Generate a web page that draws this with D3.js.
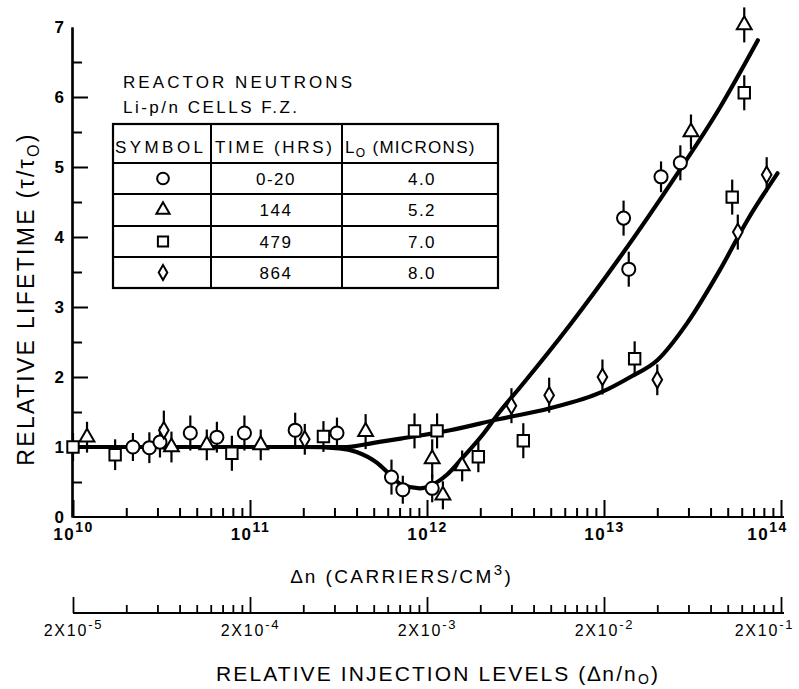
<!DOCTYPE html>
<html>
<head>
<meta charset="utf-8">
<script src="https://cdn.jsdelivr.net/npm/d3@7/dist/d3.min.js"></script>
<style>
  body { margin: 0; background: #fff; }
  svg { display: block; font-family: "Liberation Sans", Arial, Helvetica, sans-serif; }
</style>
</head>
<body>
<svg id="chart" width="799" height="689"></svg>
<script>
// ---- Measured relative lifetime vs. injection level (carriers/cm^3) ----
// 0-20 hrs (circles)
const circleX   = [2.18e10, 2.7e10, 3.1e10, 4.6e10, 6.5e10, 9.3e10, 1.8e11, 3.1e11, 6.3e11, 7.3e11, 1.07e12, 1.29e13, 1.38e13, 2.1e13, 2.7e13];
const circleY   = [1.0, 0.99, 1.07, 1.2, 1.14, 1.2, 1.24, 1.2, 0.57, 0.39, 0.41, 4.27, 3.54, 4.86, 5.06];
const circleErr = [0.2, 0.22, 0.22, 0.25, 0.22, 0.25, 0.25, 0.22, 0.25, 0.2, 0.2, 0.25, 0.25, 0.22, 0.25];
// 144 hrs (triangles)
const triX   = [1.2e10, 3.6e10, 5.7e10, 1.15e11, 4.5e11, 1.07e12, 1.23e12, 1.58e12, 3.1e13, 6.2e13];
const triY   = [1.14, 1.0, 1.03, 1.03, 1.22, 0.83, 0.31, 0.73, 5.5, 7.03];
const triErr = [0.22, 0.22, 0.22, 0.22, 0.25, 0.28, 0.2, 0.22, 0.25, 0.25];
// 479 hrs (squares)
const sqX   = [1.0e10, 1.73e10, 7.9e10, 2.6e11, 8.5e11, 1.14e12, 1.95e12, 3.5e12, 1.49e13, 5.3e13, 6.2e13];
const sqY   = [1.0, 0.89, 0.91, 1.15, 1.23, 1.23, 0.86, 1.09, 2.26, 4.57, 6.06];
const sqErr = [0.2, 0.22, 0.25, 0.22, 0.25, 0.25, 0.22, 0.25, 0.25, 0.25, 0.25];
// 864 hrs (diamonds)
const diaX   = [3.26e10, 2.04e11, 3.0e12, 4.9e12, 9.8e12, 2.0e13, 5.7e13, 8.3e13];
const diaY   = [1.24, 1.11, 1.59, 1.74, 2.0, 1.96, 4.07, 4.89];
const diaErr = [0.28, 0.22, 0.25, 0.25, 0.25, 0.22, 0.25, 0.25];

// Fitted curves
const fitAX = [1e10, 1e11, 2.0e11, 3.2e11, 4.0e11, 5.25e11, 6.2e11, 7.2e11, 9.1e11, 1.07e12, 1.29e12, 1.58e12, 2.1e12, 2.57e12, 3.35e12, 6.45e12, 1.23e13, 2.45e13, 4.52e13, 7.4e13];
const fitAY = [1.0, 1.0, 1.0, 0.98, 0.93, 0.77, 0.6, 0.46, 0.41, 0.46, 0.6, 0.84, 1.2, 1.5, 1.85, 2.75, 3.71, 4.81, 5.85, 6.81];
const fitBX = [1e10, 2.0e11, 3.5e11, 5.0e11, 7.1e11, 1.35e12, 2.57e12, 4.9e12, 9.8e12, 1.41e13, 2.0e13, 2.95e13, 4.52e13, 6.46e13, 9.55e13];
const fitBY = [1.0, 1.0, 1.0, 1.06, 1.12, 1.24, 1.40, 1.55, 1.79, 2.0, 2.24, 2.77, 3.53, 4.24, 4.91];

// Axis ticks
const yMajor = [0, 1, 2, 3, 4, 5, 6, 7];
const yMinor = [0.5, 1.5, 2.5, 3.5, 4.5, 5.5, 6.5];
const decadeExps = [10, 11, 12, 13, 14];
const relExps = [-5, -4, -3, -2, -1];

// Legend table
const legendTimes = ["0-20", "144", "479", "864"];
const legendLengths = ["4.0", "5.2", "7.0", "8.0"];

const svg = d3.select("#chart");
const x = d3.scaleLog().domain([1e10, 1e14]).range([73, 781]);
const y = d3.scaleLinear().domain([0, 7]).range([517, 27]);
const xRel = d3.scaleLog().domain([2e-5, 2e-1]).range([73, 781]);

const decades = decadeExps.map(e => Math.pow(10, e));
const minorX = [];
for (let e = 10; e < 14; e++) for (let k = 2; k <= 9; k++) minorX.push(k * Math.pow(10, e));
const relMajor = relExps.map(e => 2 * Math.pow(10, e));
const relMinor = [];
for (let e = -5; e < -1; e++) for (let k = 2; k <= 9; k++) relMinor.push(2 * k * Math.pow(10, e));

// ---- bottom (carrier) axis ----
const gx = svg.append("g").attr("transform", `translate(0,${y(0)})`);
gx.call(d3.axisBottom(x).tickValues(minorX).tickSize(-9).tickSizeOuter(0).tickFormat(""));
gx.append("g").call(d3.axisBottom(x).tickValues(decades).tickSize(-17).tickSizeOuter(0).tickPadding(11).tickFormat(""));
gx.selectAll("path.domain").attr("stroke-width", 2.2).attr("d", "M73,0H784");
gx.selectAll(".tick line").attr("stroke-width", 2);
gx.selectAll(".tick text").filter(d => decades.includes(d)).each(function (d, i) {
  const t = d3.select(this).attr("font-size", 17).attr("font-weight", "bold").attr("fill", "#000").attr("letter-spacing", 1.5);
  t.text(null);
  if (i === decades.length - 1) t.attr("x", -14);
  t.append("tspan").text("10");
  t.append("tspan").attr("dy", -8).attr("font-size", 14).text(Math.round(Math.log10(d)));
});

// ---- left axis ----
const gy = svg.append("g").attr("transform", `translate(${x(1e10) - 1},0)`);
gy.call(d3.axisLeft(y).tickValues(yMinor).tickSize(-10).tickSizeOuter(0).tickFormat(""));
gy.append("g").call(d3.axisLeft(y).tickValues(yMajor).tickSize(-16).tickSizeOuter(0).tickPadding(8).tickFormat(d3.format("d")));
gy.selectAll("path.domain").attr("stroke-width", 2.2);
gy.selectAll(".tick line").attr("stroke-width", 2);
gy.selectAll(".tick").filter(d => d === 7 || d === 0).select("line").remove();
gy.selectAll(".tick text").attr("font-size", 17).attr("font-weight", "bold").attr("fill", "#000");

// ---- relative injection axis ----
const gr = svg.append("g").attr("transform", "translate(0,613)");
gr.call(d3.axisBottom(xRel).tickValues(relMinor).tickSize(-8).tickSizeOuter(0).tickFormat(""));
gr.append("g").call(d3.axisBottom(xRel).tickValues(relMajor).tickSize(-16).tickSizeOuter(0).tickPadding(12).tickFormat(""));
gr.selectAll("path.domain").attr("stroke-width", 2).attr("d", "M73,0H784");
gr.selectAll(".tick line").attr("stroke-width", 1.8);
gr.selectAll(".tick text").filter(d => relMajor.includes(d)).each(function (d, i) {
  const t = d3.select(this).attr("font-size", 16).attr("fill", "#000").attr("letter-spacing", 1.8);
  t.text(null);
  if (i === relMajor.length - 1) t.attr("x", -17);
  t.append("tspan").text("2X10");
  t.append("tspan").attr("dy", -7).attr("font-size", 13).text(relExps[i]);
});

// ---- titles ----
const yt = svg.append("text")
  .attr("transform", "translate(34,299) rotate(-90)")
  .attr("text-anchor", "middle").attr("font-size", 23).attr("letter-spacing", 2.3);
yt.append("tspan").text("RELATIVE LIFETIME (\u03C4/\u03C4");
yt.append("tspan").attr("font-size", 16).attr("dy", 5).text("O");
yt.append("tspan").attr("dy", -5).text(")");

const xt = svg.append("text").attr("x", 402).attr("y", 583)
  .attr("text-anchor", "middle").attr("font-size", 19).attr("letter-spacing", 2.4);
xt.append("tspan").text("\u2206n (CARRIERS/CM");
xt.append("tspan").attr("font-size", 15).attr("dy", -8).text("3");
xt.append("tspan").attr("dy", 8).text(")");

const rt = svg.append("text").attr("x", 438).attr("y", 681)
  .attr("text-anchor", "middle").attr("font-size", 21).attr("letter-spacing", 2.1);
rt.append("tspan").text("RELATIVE INJECTION LEVELS (\u2206n/n");
rt.append("tspan").attr("font-size", 14).attr("dy", 3).text("O");
rt.append("tspan").attr("dy", -3).text(")");

// ---- fitted curves ----
const line = d3.line().x(d => x(d[0])).y(d => y(d[1])).curve(d3.curveMonotoneX);
const curves = [d3.zip(fitAX, fitAY), d3.zip(fitBX, fitBY)];
svg.append("g").selectAll("path").data(curves).join("path")
  .attr("d", line).attr("fill", "none").attr("stroke", "#000")
  .attr("stroke-width", 4.2).attr("stroke-linecap", "round");

// ---- data points ----
const series = [
  { xs: circleX, ys: circleY, errs: circleErr, type: d3.symbolCircle, size: 135 },
  { xs: triX, ys: triY, errs: triErr, type: d3.symbolTriangle, size: 95 },
  { xs: sqX, ys: sqY, errs: sqErr, type: d3.symbolSquare, size: 130 },
  { xs: diaX, ys: diaY, errs: diaErr, type: d3.symbolDiamond, size: 80 }
];
const gPts = svg.append("g");
series.forEach(s => {
  const pts = d3.range(s.xs.length).map(i => ({ x: s.xs[i], y: s.ys[i], e: s.errs[i] }));
  gPts.append("g").selectAll("line").data(pts).join("line")
    .attr("x1", d => x(d.x)).attr("x2", d => x(d.x))
    .attr("y1", d => y(d.y + d.e)).attr("y2", d => y(d.y - d.e))
    .attr("stroke", "#000").attr("stroke-width", 2.2);
});
series.forEach(s => {
  const pts = d3.range(s.xs.length).map(i => ({ x: s.xs[i], y: s.ys[i] }));
  gPts.append("g").selectAll("path").data(pts).join("path")
    .attr("d", d3.symbol(s.type, s.size))
    .attr("transform", d => `translate(${x(d.x)},${y(d.y)})`)
    .attr("fill", "#fff").attr("stroke", "#000").attr("stroke-width", 2);
});

// ---- legend block ----
const lg = svg.append("g");
lg.append("text").attr("x", 123).attr("y", 88).attr("font-size", 17)
  .attr("textLength", 229).attr("lengthAdjust", "spacing").text("REACTOR NEUTRONS");
lg.append("text").attr("x", 123).attr("y", 113).attr("font-size", 17)
  .attr("textLength", 174).attr("lengthAdjust", "spacing").text("Li-p/n CELLS F.Z.");

const colEdges = [113, 211, 342, 498];
const rowEdges = [124, 163, 194, 226, 257, 288];
lg.append("rect").attr("x", colEdges[0]).attr("y", rowEdges[0])
  .attr("width", colEdges[3] - colEdges[0]).attr("height", rowEdges[5] - rowEdges[0])
  .attr("fill", "#fff").attr("stroke", "#000").attr("stroke-width", 2.2);
colEdges.slice(1, 3).forEach(cx => lg.append("line").attr("x1", cx).attr("x2", cx)
  .attr("y1", rowEdges[0]).attr("y2", rowEdges[5]).attr("stroke", "#000").attr("stroke-width", 2));
rowEdges.slice(1, 5).forEach(ry => lg.append("line").attr("x1", colEdges[0]).attr("x2", colEdges[3])
  .attr("y1", ry).attr("y2", ry).attr("stroke", "#000").attr("stroke-width", 2));

lg.append("text").attr("x", 115).attr("y", 153).attr("font-size", 17)
  .attr("textLength", 88).attr("lengthAdjust", "spacing").text("SYMBOL");
lg.append("text").attr("x", 215).attr("y", 153).attr("font-size", 17)
  .attr("textLength", 117).attr("lengthAdjust", "spacing").text("TIME (HRS)");
const lh = lg.append("text").attr("x", 345).attr("y", 153).attr("font-size", 17).attr("letter-spacing", 1.3);
lh.append("tspan").text("L");
lh.append("tspan").attr("font-size", 12).attr("dy", 4).text("O");
lh.append("tspan").attr("dy", -4).text(" (MICRONS)");

series.forEach((s, i) => {
  const cy = (rowEdges[i + 1] + rowEdges[i + 2]) / 2;
  lg.append("path").attr("d", d3.symbol(s.type, s.size * 0.8))
    .attr("transform", `translate(163,${cy})`)
    .attr("fill", "#fff").attr("stroke", "#000").attr("stroke-width", 2);
  lg.append("text").attr("x", 276).attr("y", cy + 6).attr("text-anchor", "middle")
    .attr("font-size", 17).attr("letter-spacing", 1.5).text(legendTimes[i]);
  lg.append("text").attr("x", 422).attr("y", cy + 6).attr("text-anchor", "middle")
    .attr("font-size", 17).attr("letter-spacing", 1.5).text(legendLengths[i]);
});
</script>
</body>
</html>
